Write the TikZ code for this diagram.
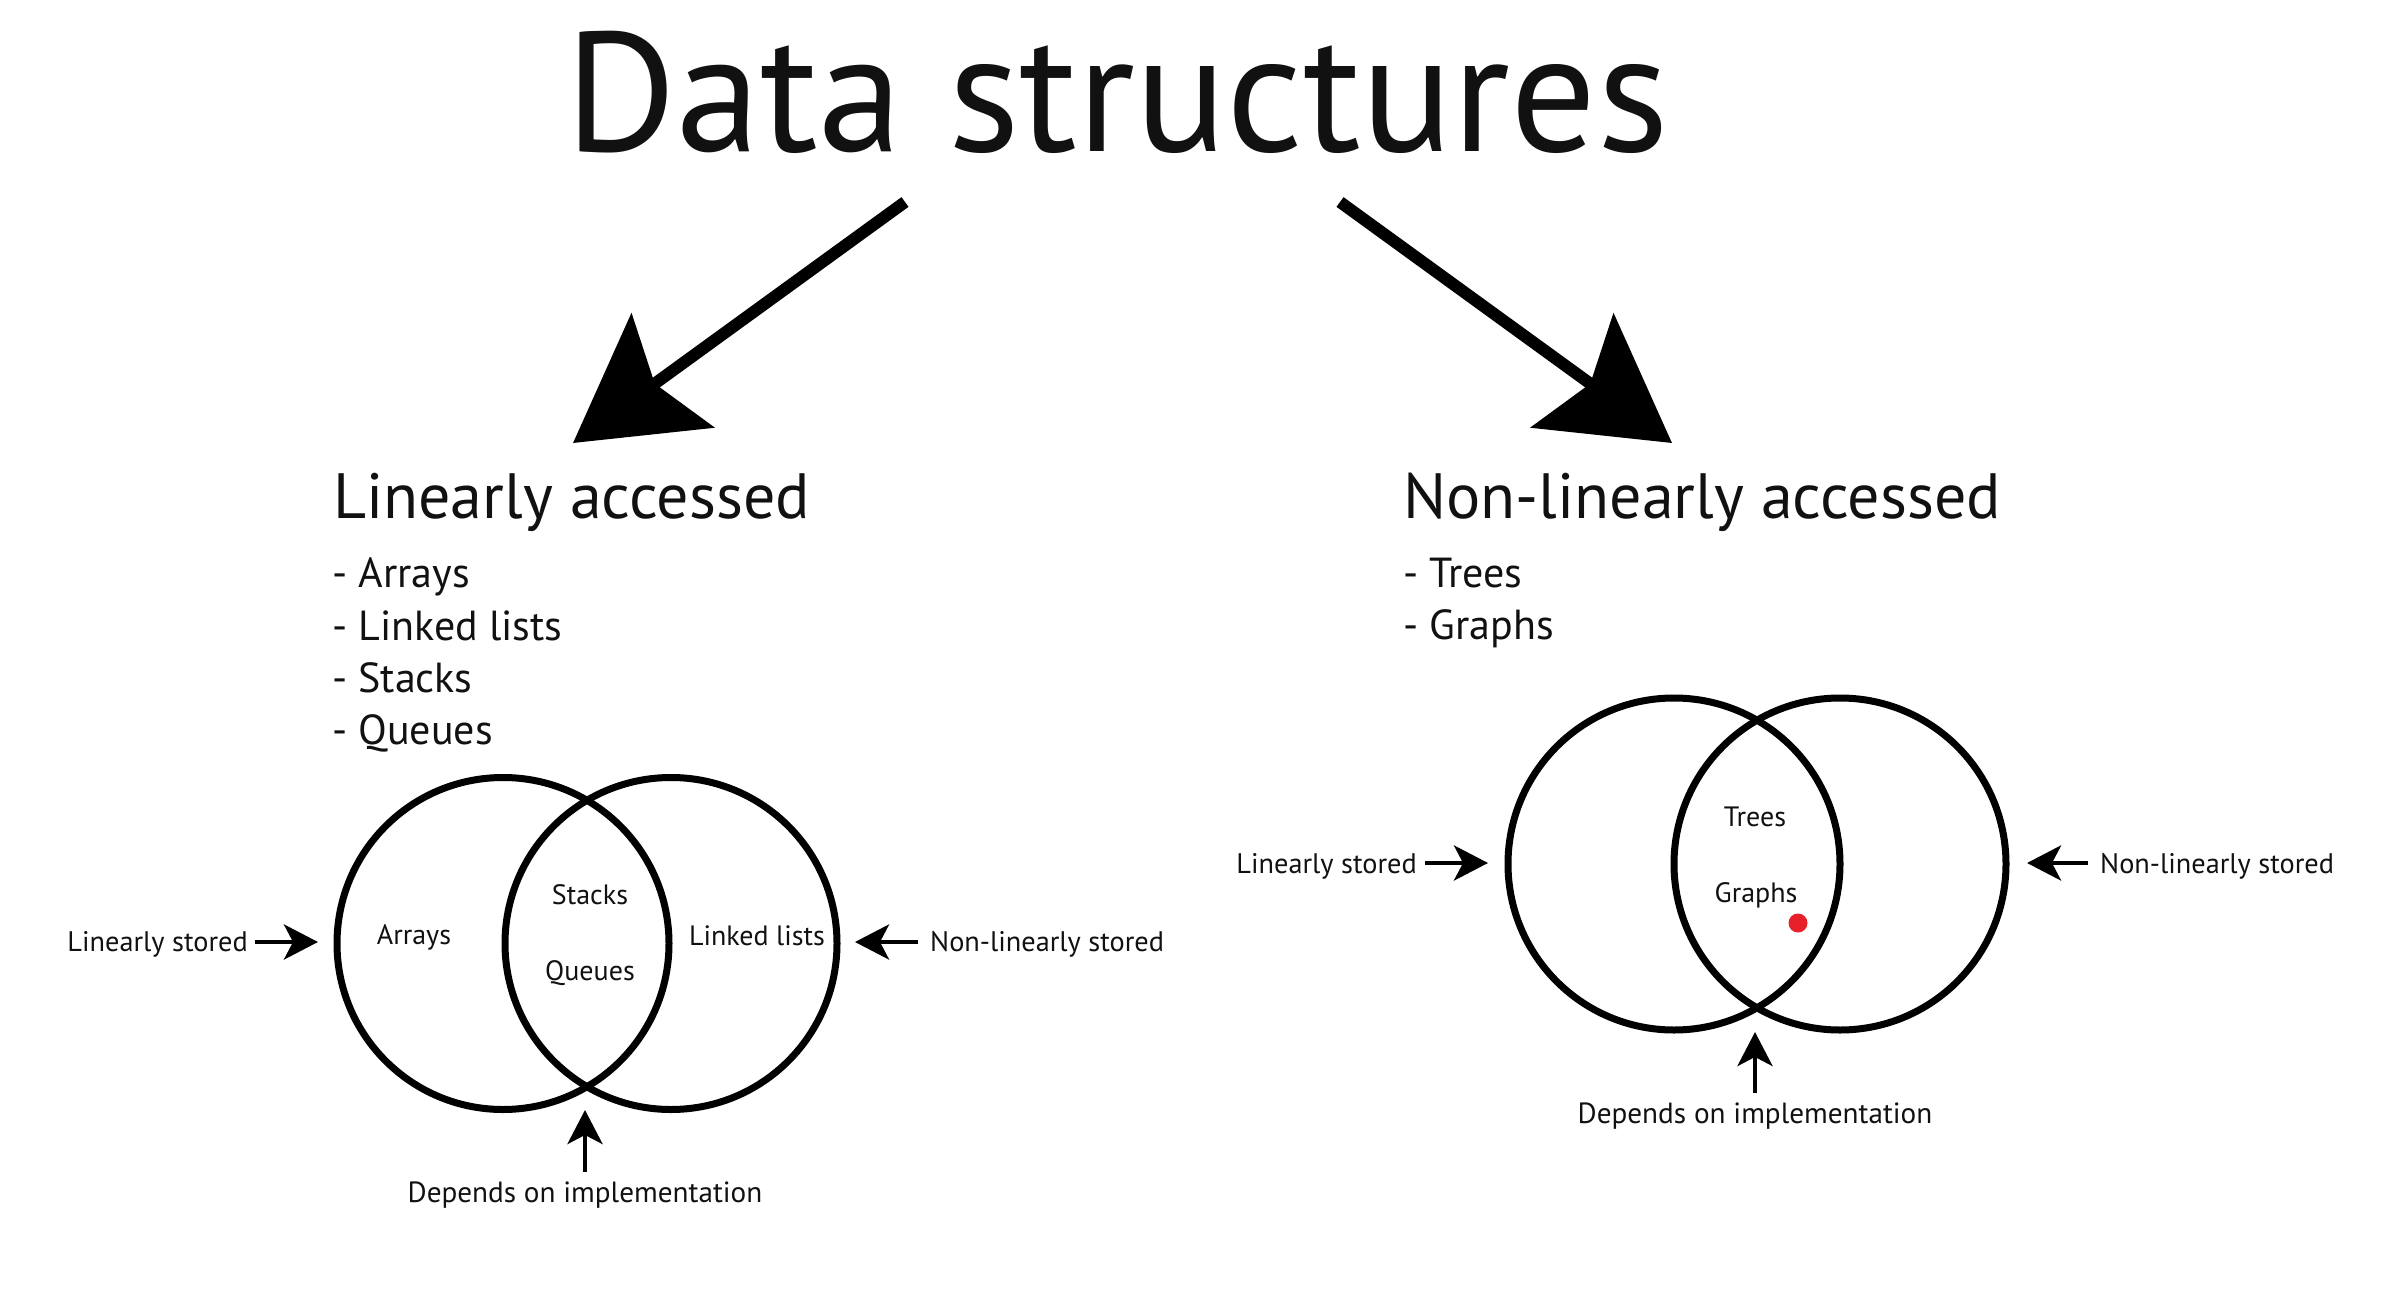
\documentclass[tikz,border=0pt]{standalone}
\usepackage{fontspec}
\setmainfont{PT Sans}
\usetikzlibrary{arrows.meta}
\definecolor{dotred}{HTML}{E8202A}
\definecolor{ink}{HTML}{111111}
\begin{document}
\begin{tikzpicture}[x=1pt,y=-1pt,
  ttl/.style={inner sep=0pt, text=ink, font=\fontsize{170}{190}\selectfont},
  hd/.style={inner sep=0pt, text=ink, font=\fontsize{64}{76}\selectfont},
  itm/.style={inner sep=0pt, text=ink, font=\fontsize{42}{50}\selectfont},
  vtxt/.style={inner sep=0pt, text=ink, font=\fontsize{28}{32}\selectfont},
  lbl/.style={inner sep=0pt, text=ink, font=\fontsize{28.3}{34}\selectfont},
  deplbl/.style={inner sep=0pt, text=ink, font=\fontsize{29.2}{34}\selectfont},
  vc/.style={circle, draw=black, line width=7pt, minimum size=332pt, inner sep=0pt},
  bigarrow/.style={line width=12pt, -{Stealth[length=123pt,width=140pt,inset=22pt]}},
  sarrow/.style={line width=4.5pt, -{Stealth[length=34pt,width=35pt,inset=9pt]}}]
\useasboundingbox[fill=white] (0,0) rectangle (2388,1316);

% title and headings
\node[ttl, anchor=base] (title) at (1117,152) {Data structures};
\node[hd, anchor=base west] (hl) at (333,518) {Linearly accessed};
\node[hd, anchor=base west] (hr) at (1403,518) {Non-linearly accessed};

% big arrows
\coordinate (a1s) at (905,202);
\coordinate (a1e) at (573,443);
\coordinate (a2s) at (1340,202);
\coordinate (a2e) at (1672,443);
\draw[bigarrow] (a1s) -- (a1e);
\draw[bigarrow] (a2s) -- (a2e);

% lists
\node[itm, anchor=base west] (i1) at (332,587) {- Arrays};
\node[itm, anchor=base west] (i2) at (332,640) {- Linked lists};
\node[itm, anchor=base west] (i3) at (332,692) {- Stacks};
\node[itm, anchor=base west] (i4) at (332,744) {- Queues};
\node[itm, anchor=base west] (j1) at (1403,587) {- Trees};
\node[itm, anchor=base west] (j2) at (1403,639) {- Graphs};

% left Venn
\node[vc] (L1) at (503,943.5) {};
\node[vc] (L2) at (671,943.5) {};
\node[vtxt, anchor=base] (tA) at (414,944) {Arrays};
\node[vtxt, anchor=base] (tS) at (590,904) {Stacks};
\node[vtxt, anchor=base] (tQ) at (590,980) {Queues};
\node[vtxt, anchor=base] (tL) at (757,945) {Linked lists};

\node[lbl, anchor=base east] (lsL) at (248,951) {Linearly stored};
\coordinate (lsLtip) at (318,942);
\draw[sarrow] ([shift={(7pt,9pt)}]lsL.base east) -- (lsLtip);
\node[lbl, anchor=base west] (nsL) at (930,951) {Non-linearly stored};
\coordinate (nsLtip) at (855,942);
\draw[sarrow] ([shift={(-12pt,9pt)}]nsL.base west) -- (nsLtip);
\node[deplbl, anchor=base] (depL) at (585,1202) {Depends on implementation};
\coordinate (depLtip) at (585,1110);
\draw[sarrow] ([yshift=30pt]depL.base) -- (depLtip);

% right Venn
\node[vc] (R1) at (1674,864) {};
\node[vc] (R2) at (1840,864) {};
\node[vtxt, anchor=base] (tT) at (1755,826) {Trees};
\node[vtxt, anchor=base] (tG) at (1756,902) {Graphs};
\node[circle, fill=dotred, minimum size=19pt, inner sep=0pt] (dot) at (1798,923) {};

\node[lbl, anchor=base east] (lsR) at (1417,873) {Linearly stored};
\coordinate (lsRtip) at (1488,863);
\draw[sarrow] ([shift={(8pt,10pt)}]lsR.base east) -- (lsRtip);
\node[lbl, anchor=base west] (nsR) at (2100,873) {Non-linearly stored};
\coordinate (nsRtip) at (2027,863);
\draw[sarrow] ([shift={(-12pt,10pt)}]nsR.base west) -- (nsRtip);
\node[deplbl, anchor=base] (depR) at (1755,1123) {Depends on implementation};
\coordinate (depRtip) at (1755,1032);
\draw[sarrow] ([yshift=30pt]depR.base) -- (depRtip);
\end{tikzpicture}
\end{document}
